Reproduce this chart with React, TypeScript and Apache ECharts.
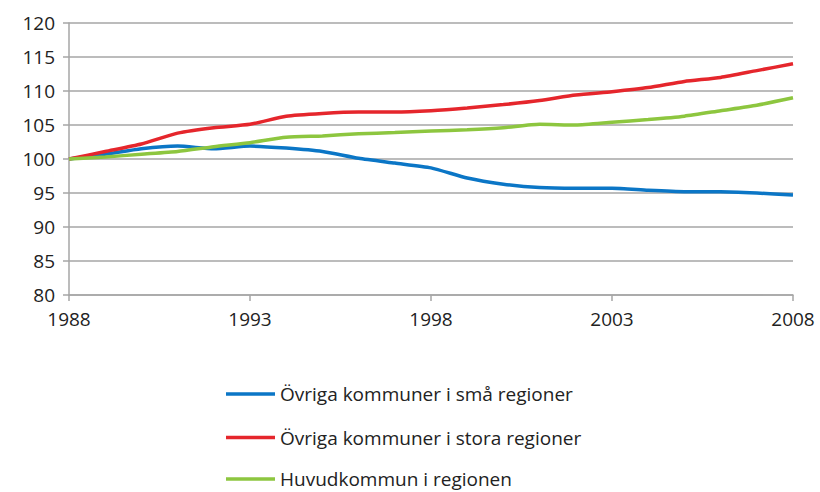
import React, { useEffect, useRef } from "react";
import * as echarts from "echarts";

const years = [
  "1988", "1989", "1990", "1991", "1992", "1993", "1994", "1995", "1996", "1997", "1998",
  "1999", "2000", "2001", "2002", "2003", "2004", "2005", "2006", "2007", "2008",
];
const smaRegioner = [
  100, 100.7, 101.5, 101.9, 101.5, 101.9, 101.6, 101.1, 100.1, 99.4, 98.7,
  97.2, 96.3, 95.8, 95.7, 95.7, 95.4, 95.2, 95.2, 95.0, 94.7,
];
const storaRegioner = [
  100, 101.1, 102.2, 103.8, 104.6, 105.1, 106.3, 106.7, 106.9, 106.9, 107.1,
  107.5, 108.0, 108.6, 109.4, 109.9, 110.5, 111.4, 112.0, 113.0, 114.0,
];
const huvudkommun = [
  100, 100.3, 100.7, 101.1, 101.8, 102.4, 103.2, 103.4, 103.7, 103.9, 104.1,
  104.3, 104.6, 105.1, 105.0, 105.4, 105.8, 106.3, 107.1, 107.9, 109.0,
];
const seriesNames = [
  "Övriga kommuner i små regioner",
  "Övriga kommuner i stora regioner",
  "Huvudkommun i regionen",
];
const colors = ["#0b76c6", "#e5262c", "#8dc63f"];

export default function App() {
  const ref = useRef<HTMLDivElement>(null);
  useEffect(() => {
    if (!ref.current) return;
    const chart = echarts.init(ref.current, null, { renderer: "svg" });
    const font = "'Open Sans', 'Liberation Sans', sans-serif";
    const data = [smaRegioner, storaRegioner, huvudkommun];
    const legendTops = [384, 427.5, 469];
    chart.setOption({
      animation: false,
      grid: { left: 69, right: 27, top: 23, bottom: 197, containLabel: false },
      legend: seriesNames.map((name, i) => ({
        orient: "vertical",
        left: 226,
        top: legendTops[i],
        padding: 0,
        itemWidth: 49,
        itemHeight: 3.5,
        icon: "rect",
        data: [name],
        textStyle: { fontFamily: font, fontSize: 19, color: "#222", lineHeight: 20 },
      })),
      xAxis: {
        type: "category",
        data: years,
        boundaryGap: false,
        axisLine: { lineStyle: { color: "#a6a6a6", width: 1.5 } },
        axisTick: { interval: 4, length: 6, lineStyle: { color: "#a6a6a6", width: 1.5 } },
        axisLabel: { interval: 4, fontFamily: font, fontSize: 19, color: "#222", margin: 14 },
        splitLine: { show: false },
      },
      yAxis: {
        type: "value",
        min: 80,
        max: 120,
        interval: 5,
        axisLine: { show: true, lineStyle: { color: "#a6a6a6", width: 1.5 } },
        axisTick: { show: true, length: 6, inside: false, lineStyle: { color: "#a6a6a6", width: 1.5 } },
        axisLabel: { fontFamily: font, fontSize: 19, color: "#222", margin: 14 },
        splitLine: { lineStyle: { color: "#a6a6a6", width: 1.5 } },
      },
      series: seriesNames.map((name, i) => ({
        name,
        type: "line",
        data: data[i],
        symbol: "none",
        smooth: 0.2,
        color: colors[i],
        lineStyle: { width: 3.5, color: colors[i] },
      })),
    });
    return () => chart.dispose();
  }, []);
  return <div ref={ref} style={{ width: 820, height: 492, position: "absolute", left: 0, top: 0 }} />;
}
